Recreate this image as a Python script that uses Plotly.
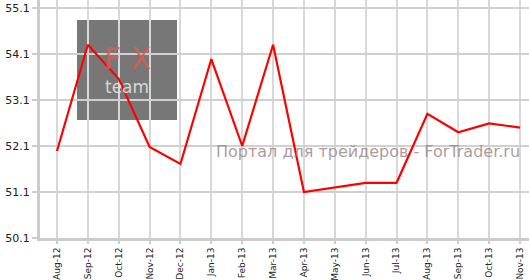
import plotly.graph_objects as go

months = ["Aug-12", "Sep-12", "Oct-12", "Nov-12", "Dec-12", "Jan-13", "Feb-13", "Mar-13",
          "Apr-13", "May-13", "Jun-13", "Jul-13", "Aug-13", "Sep-13", "Oct-13", "Nov-13"]
values = [51.99, 54.3, 53.56, 52.08, 51.71, 53.99, 52.1, 54.3,
          51.1, 51.2, 51.3, 51.3, 52.8, 52.4, 52.59, 52.5]
y_ticks = [50.1, 51.1, 52.1, 53.1, 54.1, 55.1]

x_idx = list(range(len(months)))

fig = go.Figure()
fig.add_trace(go.Scatter(
    x=x_idx, y=values, mode="lines",
    line=dict(color="#ff0000", width=2.2),
    hoverinfo="skip", showlegend=False,
))

fig.update_layout(
    width=529, height=280,
    margin=dict(l=40, r=0, t=0, b=42),
    paper_bgcolor="white", plot_bgcolor="white",
    font=dict(family="DejaVu Sans", color="#222222"),
    xaxis=dict(
        range=[-0.55, 15.29], automargin=False,
        tickmode="array", tickvals=x_idx, ticktext=months,
        tickangle=-90, tickfont=dict(size=9, color="#222222"),
        showgrid=True, gridcolor="#d8d8d8", gridwidth=1.5,
        showline=True, linecolor="#cccccc", linewidth=3,
        ticks="outside", ticklen=3, tickcolor="#cccccc", tickwidth=1.5,
        zeroline=False,
    ),
    yaxis=dict(
        range=[50.1, 50.1 + 238 / 46], automargin=False,
        tickmode="array", tickvals=y_ticks, ticktext=[f"{v:.1f}" for v in y_ticks],
        tickfont=dict(size=11, color="#222222"),
        showgrid=True, gridcolor="#d0d0d0", gridwidth=1.5,
        showline=True, linecolor="#cccccc", linewidth=3,
        ticks="outside", ticklen=5, tickcolor="#cccccc", tickwidth=1.5,
        zeroline=False,
    ),
    shapes=[
        dict(type="rect", xref="paper", yref="paper",
             x0=(77 - 40) / 489, x1=(177 - 40) / 489,
             y0=(238 - 120) / 238, y1=(238 - 20) / 238,
             fillcolor="#777777", line=dict(width=0), layer="below"),
    ],
    annotations=[
        dict(text="F X", xref="paper", yref="paper",
             x=(127 - 40) / 489, y=(238 - 58) / 238,
             showarrow=False, font=dict(size=30, color="rgba(215,95,80,0.85)", family="DejaVu Sans"),
             xanchor="center", yanchor="middle"),
        dict(text="team", xref="paper", yref="paper",
             x=(127 - 40) / 489, y=(238 - 87) / 238,
             showarrow=False, font=dict(size=17, color="#d8d8d8", family="DejaVu Sans ExtraLight, DejaVu Sans"),
             xanchor="center", yanchor="middle"),
        dict(text="Портал для трейдеров - ForTrader.ru", xref="paper", yref="paper",
             x=(522 - 40) / 489, y=(238 - 151) / 238,
             showarrow=False, font=dict(size=16, color="rgba(150,130,130,0.8)", family="DejaVu Sans"),
             xanchor="right", yanchor="middle"),
    ],
)

fig.write_html("out.html")
